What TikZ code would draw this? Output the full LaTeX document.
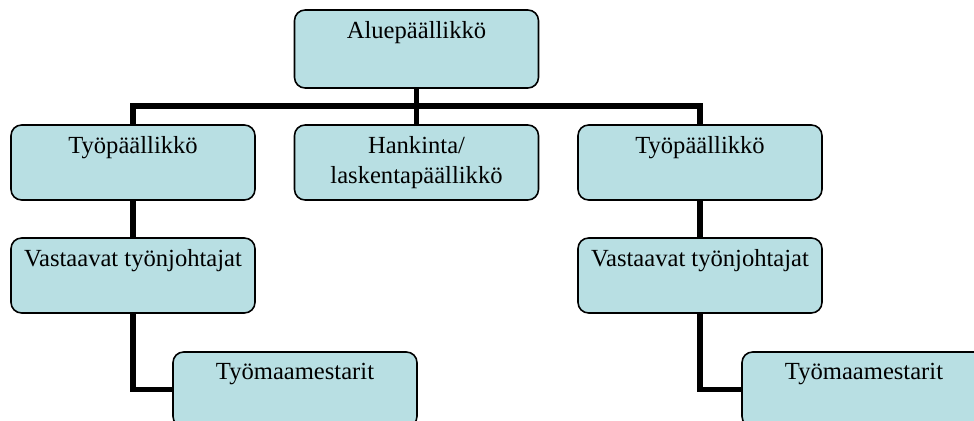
\documentclass[tikz,border=0pt]{standalone}
\usepackage{fontspec}
\setmainfont{Liberation Serif}
\usetikzlibrary{positioning, calc}
\definecolor{boxcyan}{RGB}{184,223,227}

\begin{document}
\begin{tikzpicture}[
    x=0.02cm, y=-0.02cm,
    orgbox/.style={
        rectangle, rounded corners=6pt, draw=black, line width=0.9pt,
        fill=boxcyan, minimum width=4.88cm, minimum height=1.5cm,
        inner sep=0pt
    },
    boxtext/.style={
        anchor=north, inner sep=0pt, align=center,
        font=\fontsize{14pt}{17pt}\selectfont, text=black
    },
    link/.style={line width=2.9pt, color=black}
]

\useasboundingbox (0,0) rectangle (974,421);
\clip (0,0) rectangle (974,421);

% --- boxes ---
\node[orgbox, minimum height=1.56cm] (alue) at (416.5,49) {};
\node[orgbox] (tp1) at (133,162.5) {};
\node[orgbox] (hank) at (416.5,162.5) {};
\node[orgbox] (tp2) at (700,162.5) {};
\node[orgbox] (vt1) at (133,275.5) {};
\node[orgbox] (vt2) at (700,275.5) {};
\node[orgbox] (tm1) at (295,389.5) {};
\node[orgbox] (tm2) at (864,389.5) {};

% --- texts ---
\node[boxtext] (aluet) at ([yshift=-0.24cm]alue.north) {Aluepäällikkö};
\node[boxtext] (tp1t)  at ([yshift=-0.24cm]tp1.north) {Työpäällikkö};
\node[boxtext] (hankt) at ([yshift=-0.24cm]hank.north) {Hankinta/\\laskentapäällikkö};
\node[boxtext] (tp2t)  at ([yshift=-0.24cm]tp2.north) {Työpäällikkö};
\node[boxtext] (vt1t)  at ([yshift=-0.24cm]vt1.north) {Vastaavat työnjohtajat};
\node[boxtext] (vt2t)  at ([yshift=-0.24cm]vt2.north) {Vastaavat työnjohtajat};
\node[boxtext] (tm1t)  at ([yshift=-0.24cm]tm1.north) {Työmaamestarit};
\node[boxtext] (tm2t)  at ([yshift=-0.24cm]tm2.north) {Työmaamestarit};

% --- connectors ---
\coordinate (bus) at (416.5,106);
\draw[link] (alue.south) -- (hank.north);
\draw[link] (tp1.north) |- (bus) -| (tp2.north);
\draw[link] (tp1.south) -- (vt1.north);
\draw[link] (tp2.south) -- (vt2.north);
\draw[link] (vt1.south) |- (tm1.west);
\draw[link] (vt2.south) |- (tm2.west);

\end{tikzpicture}
\end{document}
